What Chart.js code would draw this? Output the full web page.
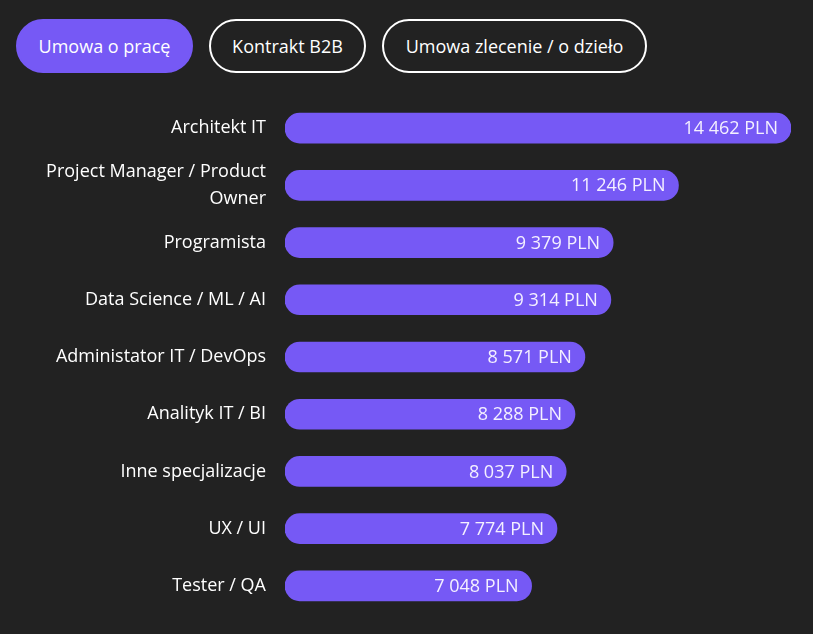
<!DOCTYPE html>
<html>
<head>
<meta charset="utf-8">
<script src="https://cdn.jsdelivr.net/npm/chart.js@4"></script>
<style>
  html, body { margin: 0; padding: 0; background: #222222; }
  body { width: 813px; height: 634px; overflow: hidden; position: relative; font-family: "Open Sans", sans-serif; }
  .tabs { position: absolute; left: 16px; top: 19px; display: flex; gap: 16px; }
  .tab {
    box-sizing: border-box; height: 54px; border-radius: 27px;
    display: flex; align-items: center; justify-content: center; color: #fff; font-size: 18px;
    border: 2px solid #fff; background: transparent;
  }
  .tab.active { background: #7659f5; border-color: #7659f5; }
  #wrap { position: absolute; left: 0; top: 75px; width: 813px; height: 564px; }
</style>
</head>
<body>
<div class="tabs">
  <div class="tab active" style="width:177px">Umowa o pracę</div>
  <div class="tab" style="width:157px">Kontrakt B2B</div>
  <div class="tab" style="width:265px">Umowa zlecenie / o dzieło</div>
</div>
<div id="wrap"><canvas id="wykres"></canvas></div>
<script>
const stanowiska = [
  'Architekt IT',
  ['Project Manager / Product', 'Owner'],
  'Programista',
  'Data Science / ML / AI',
  'Administator IT / DevOps',
  'Analityk IT / BI',
  'Inne specjalizacje',
  'UX / UI',
  'Tester / QA'
];
const pensje = [14462, 11246, 9379, 9314, 8571, 8288, 8037, 7774, 7048];

const kolorSlupka = '#7659f5';
const czcionka = '"Open Sans", sans-serif';

function formatujPln(v) {
  return String(v).replace(/\B(?=(\d{3})+(?!\d))/g, ' ') + ' PLN';
}

// wartości na końcu słupków
const etykietyPlugin = {
  id: 'etykiety',
  afterDatasetsDraw(chart) {
    const ctx = chart.ctx;
    const meta = chart.getDatasetMeta(0);
    ctx.save();
    ctx.font = '18px ' + czcionka;
    ctx.fillStyle = '#f4f0ff';
    ctx.textAlign = 'right';
    ctx.textBaseline = 'middle';
    meta.data.forEach((bar, i) => {
      ctx.fillText(formatujPln(pensje[i]), bar.x - 13, bar.y + 1);
    });
    ctx.restore();
  }
};

new Chart(document.getElementById('wykres'), {
  type: 'bar',
  data: {
    labels: stanowiska,
    datasets: [{
      data: pensje,
      backgroundColor: kolorSlupka,
      borderRadius: 15,
      borderSkipped: false,
      barThickness: 30
    }]
  },
  options: {
    indexAxis: 'y',
    responsive: true,
    maintainAspectRatio: false,
    animation: false,
    layout: { padding: { top: 0, bottom: 0, right: 22, left: 0 } },
    plugins: { legend: { display: false }, tooltip: { enabled: false } },
    scales: {
      x: {
        display: false,
        min: 0,
        max: 14462
      },
      y: {
        grid: { display: false },
        border: { display: false },
        afterFit(axis) { axis.width = 285; },
        ticks: {
          color: '#ffffff',
          padding: 11,
          font: { family: czcionka, size: 18, lineHeight: 1.5 }
        }
      }
    }
  },
  plugins: [etykietyPlugin]
});
</script>
</body>
</html>
